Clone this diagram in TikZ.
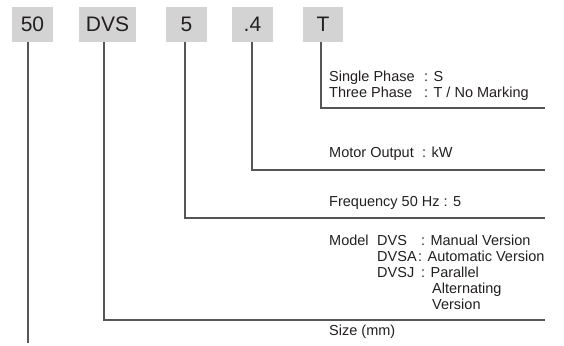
\documentclass[tikz,border=0pt]{standalone}
\usepackage{fontspec}
\setmainfont{Liberation Sans}
\definecolor{boxgray}{HTML}{D3D3D4}
\definecolor{linegray}{HTML}{555555}
\definecolor{txt}{HTML}{231F20}
\begin{document}
\begin{tikzpicture}[x=1pt,y=-1pt,
  codebox/.style={fill=boxgray, inner sep=0pt, minimum height=35pt, text=txt,
    font=\fontsize{21}{24}\selectfont},
  lbl/.style={anchor=base west, inner sep=0pt, text=txt, font=\fontsize{14.5}{16}\selectfont},
  conn/.style={draw=linegray, line width=1.4pt}]
\useasboundingbox (0,0) rectangle (564,345);
% code boxes
\node[codebox, minimum width=41pt] (b50) at (32.5,24.5) {50};
\node[codebox, minimum width=57pt] (bDVS) at (107.5,24.5) {DVS};
\node[codebox, minimum width=41pt] (b5) at (186.5,24.5) {5};
\node[codebox, minimum width=41pt] (b4) at (252.5,24.5) {.4};
\node[codebox, minimum width=40pt] (bT) at (323,24.5) {T};
% corner and end coordinates
\coordinate (cT) at (321,108);   \coordinate (eT) at (545,108);
\coordinate (c4) at (252,170);   \coordinate (e4) at (545,170);
\coordinate (c5) at (185,218);   \coordinate (e5) at (545,218);
\coordinate (cDVS) at (104,320); \coordinate (eDVS) at (545,320);
\coordinate (e50) at (28,343);
% connectors
\draw[conn] (bT.south -| cT) -- (cT) -- (eT);
\draw[conn] (b4.south -| c4) -- (c4) -- (e4);
\draw[conn] (b5.south -| c5) -- (c5) -- (e5);
\draw[conn] (bDVS.south -| cDVS) -- (cDVS) -- (eDVS);
\draw[conn] (b50.south -| e50) -- (e50);
% labels
\node[lbl] (sp) at (329,81) {Single Phase};
\node[lbl] (spv) at (424,81) {: S};
\node[lbl] (tp) at (329,97) {Three Phase};
\node[lbl] (tpv) at (424,97) {: T / No Marking};
\node[lbl] (mo) at (329,157) {Motor Output};
\node[lbl] (mov) at (422,157) {: kW};
\node[lbl] (fr) at (329,206) {Frequency 50 Hz : 5};
\node[lbl] (md) at (329,245) {Model};
\node[lbl] (m1) at (377,245) {DVS};
\node[lbl] (m1v) at (421,245) {: Manual Version};
\node[lbl] (m2) at (377,261) {DVSA};
\node[lbl] (m2v) at (418,261) {: Automatic Version};
\node[lbl] (m3) at (377,277) {DVSJ};
\node[lbl] (m3v) at (421,277) {: Parallel};
\node[lbl] (m3b) at (432,293) {Alternating};
\node[lbl] (m3c) at (432,309) {Version};
\node[lbl] (sz) at (329,335) {Size (mm)};
\end{tikzpicture}
\end{document}
